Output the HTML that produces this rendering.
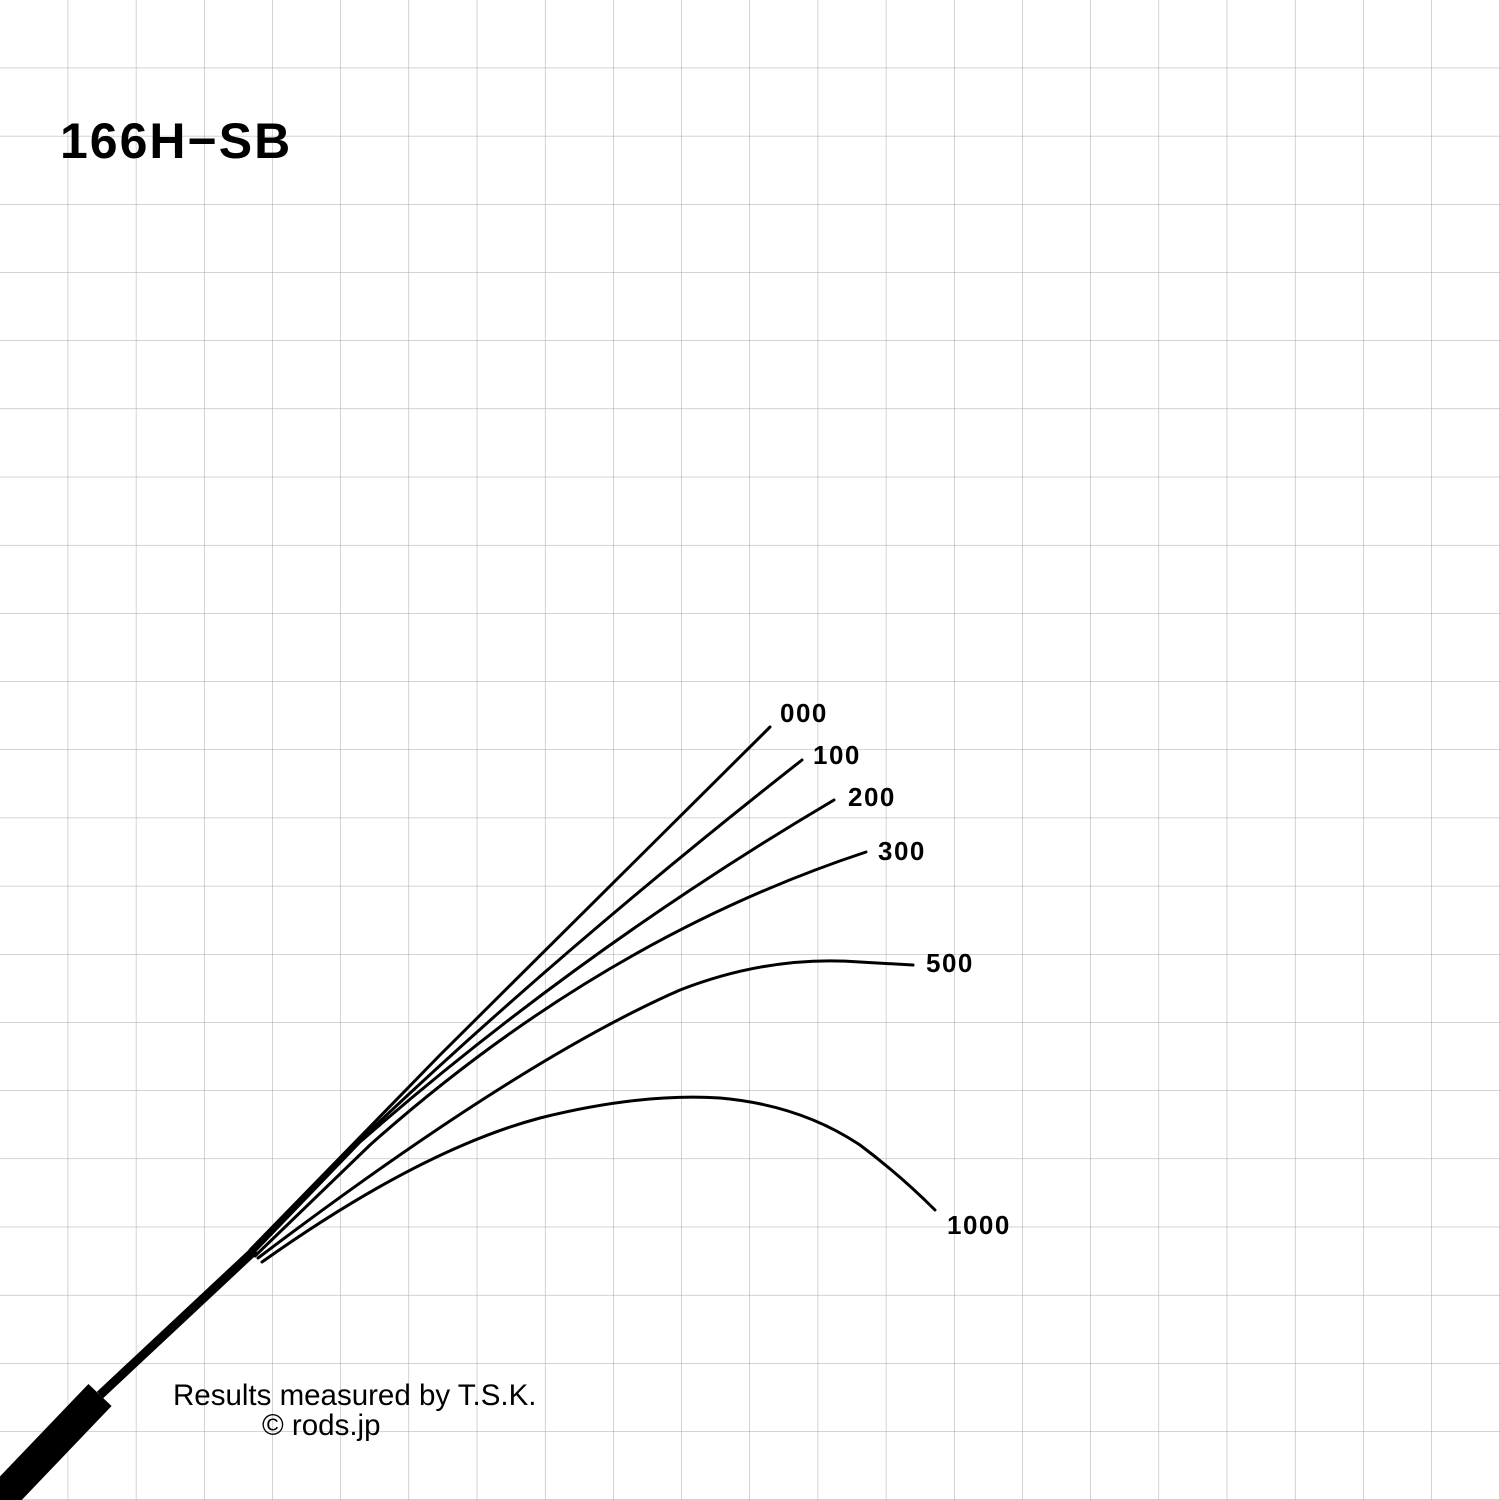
<!DOCTYPE html>
<html><head><meta charset="utf-8"><style>
html,body{margin:0;padding:0;background:#fff}
svg{display:block}
</style></head><body>
<svg width="1500" height="1500" viewBox="0 0 1500 1500" xmlns="http://www.w3.org/2000/svg">
<defs>
<pattern id="g" x="0" y="0" width="68.18" height="68.18" patternUnits="userSpaceOnUse">
<path d="M68.18 0V68.18M0 68.18H68.18" fill="none" stroke="#a8a8a8" stroke-width="1"/>
</pattern>
</defs>
<rect width="1500" height="1500" fill="#fff"/>
<rect x="-0.5" y="-0.5" width="1501" height="1501" fill="url(#g)"/>
<text x="60" y="158" font-family="Liberation Sans, sans-serif" font-weight="bold" font-size="50" fill="#000" letter-spacing="2">166H−SB</text>
<line x1="-10" y1="1510" x2="100" y2="1395" stroke="#000" stroke-width="32"/>
<line x1="100" y1="1395" x2="255" y2="1250" stroke="#000" stroke-width="9"/>
<g fill="none" stroke="#000" stroke-linecap="round">
<path d="M250 1250 L440 1055 L770 727" stroke-width="3"/>
<path d="M250 1252 L360 1140 Q560 950 802 760" stroke-width="3"/>
<path d="M252 1254 L360 1142 Q580 950 834 800" stroke-width="3"/>
<path d="M255 1256 L370 1145 Q600 940 866 852" stroke-width="3"/>
<path d="M258 1258 Q520 1060 680 990 Q770 955 860 962 L913 965" stroke-width="3"/>
<path d="M262 1262 Q420 1150 540 1118 Q640 1093 720 1098 Q800 1105 860 1145 Q900 1175 935 1210" stroke-width="3"/>
</g>
<g font-family="Liberation Sans, sans-serif" font-weight="bold" font-size="26" fill="#000" letter-spacing="1.5">
<text x="780" y="722">000</text>
<text x="813" y="764">100</text>
<text x="848" y="806">200</text>
<text x="878" y="860">300</text>
<text x="926" y="972">500</text>
<text x="947" y="1234">1000</text>
</g>
<text x="173" y="1405" font-family="Liberation Sans, sans-serif" font-size="29.5" fill="#000">Results measured by T.S.K.</text>
<text x="262" y="1435" font-family="Liberation Sans, sans-serif" font-size="29.5" fill="#000">© rods.jp</text>
</svg>
</body></html>
